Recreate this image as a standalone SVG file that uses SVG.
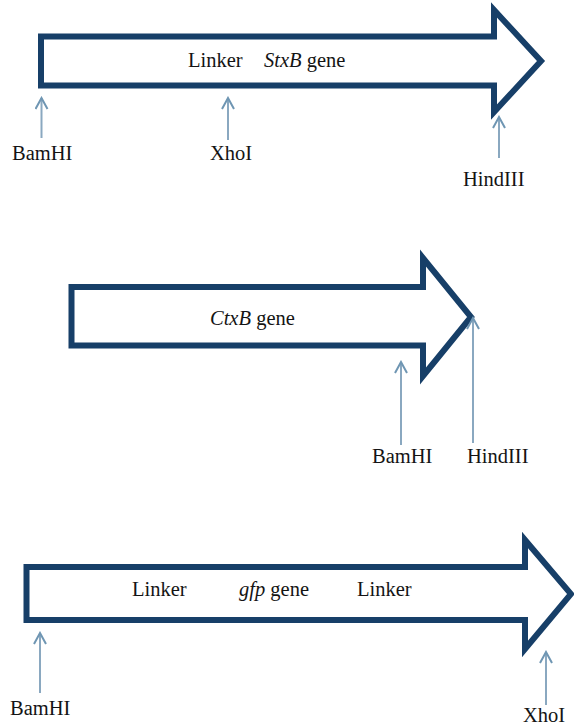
<svg xmlns="http://www.w3.org/2000/svg" width="574" height="725" viewBox="0 0 574 725" font-family="'Liberation Serif', 'Times New Roman', serif">
<style>
.gene{fill:#ffffff;stroke:#173f68;stroke-width:6;stroke-linejoin:miter}
.site{stroke:#8aa8c0;stroke-width:2;fill:none}
.t{font-family:'Liberation Serif','Times New Roman',serif;font-size:20.5px;fill:#141414}
.i{font-style:italic}
</style>
<defs>
<marker id="v" viewBox="0 0 14 14" refX="12" refY="7" markerWidth="14" markerHeight="14" orient="auto" markerUnits="userSpaceOnUse">
<path d="M1,1 L12,7 L1,13" fill="none" stroke="#6f96b3" stroke-width="2"/>
</marker>
</defs>
<rect width="574" height="725" fill="#ffffff"/>
<g id="construct1">
<path class="gene" d="M41,36.5 H494 V10 L541,61 L494,112 V85.5 H41 Z"/>
<text class="t" x="188" y="67">Linker</text>
<text class="t" x="264" y="67"><tspan class="i">StxB</tspan> gene</text>
</g>
<g id="construct2">
<path class="gene" d="M71.5,287 H423 V258 L471,317 L423,376 V345.5 H71.5 Z"/>
<text class="t" x="210" y="325"><tspan class="i">CtxB</tspan> gene</text>
</g>
<g id="construct3">
<path class="gene" d="M26.5,567 H525 V540 L571,594 L525,649 V620 H26.5 Z"/>
<text class="t" x="132" y="596">Linker</text>
<text class="t" x="239" y="596"><tspan class="i">gfp</tspan> gene</text>
<text class="t" x="357" y="596">Linker</text>
</g>
<g id="sites">
<g id="c1-bamhi"><text class="t" x="12" y="160">BamHI</text></g>
<g id="c1-xhoi"><text class="t" x="210" y="160">XhoI</text></g>
<g id="c1-hindiii"><text class="t" x="463" y="186">HindIII</text></g>
<g id="c2-bamhi"><text class="t" x="372" y="463">BamHI</text></g>
<g id="c2-hindiii"><text class="t" x="467" y="463">HindIII</text></g>
<g id="c3-bamhi"><text class="t" x="10" y="715">BamHI</text></g>
<g id="c3-xhoi"><text class="t" x="523" y="722">XhoI</text></g>
</g>
<g id="connectors">
<line class="site" x1="41.5" y1="138" x2="41.5" y2="98" marker-end="url(#v)"/>
<line class="site" x1="228" y1="140" x2="228" y2="98" marker-end="url(#v)"/>
<line class="site" x1="499" y1="158" x2="499" y2="117" marker-end="url(#v)"/>
<line class="site" x1="401" y1="445" x2="401" y2="362" marker-end="url(#v)"/>
<line class="site" x1="473" y1="443" x2="473" y2="318" marker-end="url(#v)"/>
<line class="site" x1="40" y1="693" x2="40" y2="633" marker-end="url(#v)"/>
<line class="site" x1="546" y1="705" x2="546" y2="652" marker-end="url(#v)"/>
</g>
</svg>
